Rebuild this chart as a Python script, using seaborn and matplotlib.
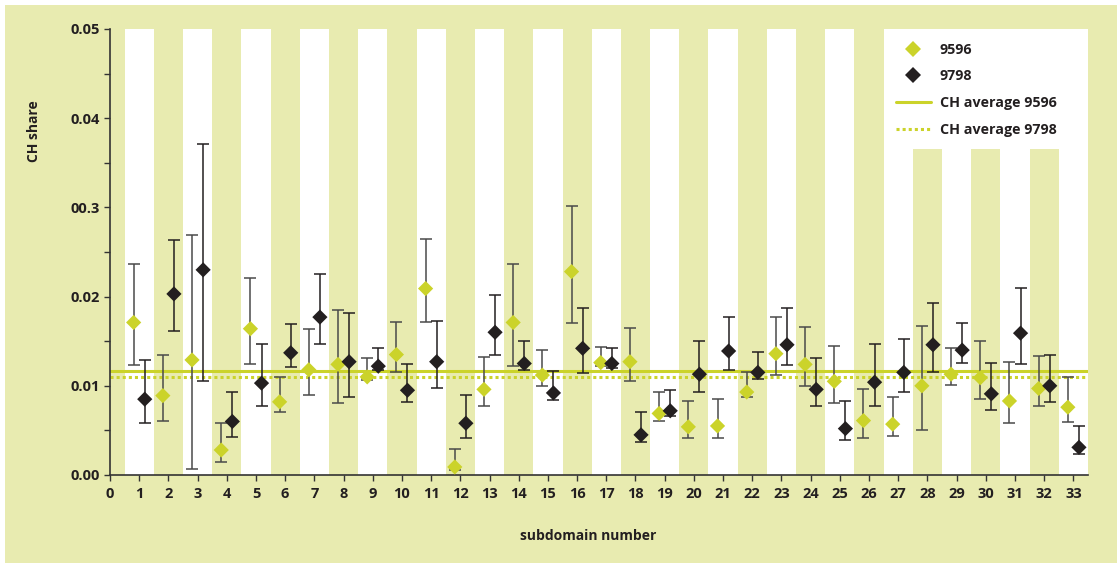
import pandas as pd
import matplotlib
matplotlib.use('Agg')
from matplotlib import pyplot as plt
from matplotlib.lines import Line2D
from matplotlib.patches import Rectangle
import seaborn as sns

# values
subdomain = list(range(1, 34))
share_9596 = [0.0171, 0.0089, 0.0129, 0.0028, 0.0164, 0.0082, 0.0118, 0.0124, 0.0110, 0.0135,
              0.0209, 0.0009, 0.0096, 0.0171, 0.0112, 0.0228, 0.0126, 0.0127, 0.0069, 0.0054,
              0.0055, 0.0093, 0.0136, 0.0124, 0.0105, 0.0061, 0.0057, 0.0100, 0.0113, 0.0109,
              0.0083, 0.0097, 0.0076]
low_9596 = [0.0123, 0.0060, 0.0007, 0.0015, 0.0125, 0.0071, 0.0090, 0.0081, 0.0107, 0.0115,
            0.0171, 0.0006, 0.0077, 0.0122, 0.0100, 0.0170, 0.0122, 0.0105, 0.0061, 0.0042,
            0.0042, 0.0087, 0.0112, 0.0100, 0.0081, 0.0042, 0.0044, 0.0050, 0.0101, 0.0085,
            0.0058, 0.0077, 0.0059]
high_9596 = [0.0237, 0.0135, 0.0269, 0.0058, 0.0221, 0.0110, 0.0164, 0.0185, 0.0131, 0.0172,
             0.0265, 0.0029, 0.0132, 0.0237, 0.0140, 0.0302, 0.0143, 0.0165, 0.0093, 0.0083,
             0.0085, 0.0115, 0.0177, 0.0166, 0.0145, 0.0096, 0.0088, 0.0167, 0.0142, 0.0150,
             0.0127, 0.0133, 0.0110]
share_9798 = [0.0085, 0.0203, 0.0230, 0.0060, 0.0103, 0.0137, 0.0177, 0.0127, 0.0122, 0.0095,
              0.0127, 0.0058, 0.0160, 0.0125, 0.0092, 0.0142, 0.0125, 0.0045, 0.0072, 0.0113,
              0.0139, 0.0115, 0.0146, 0.0096, 0.0052, 0.0104, 0.0115, 0.0146, 0.0140, 0.0091,
              0.0159, 0.0100, 0.0031]
low_9798 = [0.0058, 0.0161, 0.0105, 0.0043, 0.0077, 0.0121, 0.0147, 0.0087, 0.0118, 0.0082,
            0.0098, 0.0042, 0.0134, 0.0118, 0.0084, 0.0114, 0.0120, 0.0037, 0.0066, 0.0093,
            0.0118, 0.0108, 0.0123, 0.0077, 0.0039, 0.0077, 0.0093, 0.0116, 0.0126, 0.0073,
            0.0125, 0.0082, 0.0024]
high_9798 = [0.0129, 0.0264, 0.0371, 0.0093, 0.0147, 0.0169, 0.0225, 0.0182, 0.0142, 0.0125,
             0.0173, 0.0090, 0.0202, 0.0150, 0.0117, 0.0187, 0.0142, 0.0071, 0.0095, 0.0150,
             0.0177, 0.0138, 0.0187, 0.0131, 0.0083, 0.0147, 0.0153, 0.0193, 0.0170, 0.0126,
             0.0210, 0.0135, 0.0055]
ch_avg_9596 = 0.0117
ch_avg_9798 = 0.0110

yticks = [0.00, 0.01, 0.02, 0.03, 0.04, 0.05]
ytick_labels = ['0.00', '0.01', '0.02', '00.3', '0.04', '0.05']

GREEN = '#cbd32a'
BLACK = '#231f20'
KHAKI = '#e8ebb0'

df = pd.concat([
    pd.DataFrame({'period': '9596', 'subdomain': subdomain, 'share': share_9596,
                  'low': low_9596, 'high': high_9596}),
    pd.DataFrame({'period': '9798', 'subdomain': subdomain, 'share': share_9798,
                  'low': low_9798, 'high': high_9798}),
], ignore_index=True)
df['pos'] = df['subdomain'] + df['period'].map({'9596': -0.19, '9798': 0.19})

sns.set_theme(style='ticks')
plt.rcParams['font.family'] = ['Open Sans', 'DejaVu Sans']
plt.rcParams['font.weight'] = 'bold'

fig = plt.figure(figsize=(11.2, 5.63), dpi=100, facecolor='white')
fig.patches.append(Rectangle((5 / 1120, 0), 1112 / 1120, 558 / 563, transform=fig.transFigure,
                             facecolor=KHAKI, edgecolor='none', zorder=-10))
ax = fig.add_axes([110 / 1120, 1 - 475 / 563, 978 / 1120, 446 / 563])
ax.set_facecolor(KHAKI)

# white stripes on odd subdomains
for k in subdomain:
    if k % 2 == 1:
        ax.axvspan(k - 0.5, k + 0.5, color='white', lw=0, zorder=0.5)
# white patch behind the legend
ax.add_patch(Rectangle((26.5, 0.0365), 7, 0.0135, facecolor='white', edgecolor='none', zorder=0.6))

ax.axhline(ch_avg_9596, color=GREEN, lw=2.2, zorder=2)
ax.axhline(ch_avg_9798, color=GREEN, lw=2.2, ls=(0, (1, 1)), zorder=2)

for period, ecol in [('9596', '#4a4a4a'), ('9798', BLACK)]:
    d = df[df['period'] == period]
    ax.errorbar(d['pos'], d['share'], yerr=[d['share'] - d['low'], d['high'] - d['share']],
                fmt='none', ecolor=ecol, elinewidth=1.1, capsize=4, capthick=1.1, zorder=3)

sns.scatterplot(data=df, x='pos', y='share', hue='period', palette={'9596': GREEN, '9798': BLACK},
                marker='D', s=60, edgecolor='none', legend=False, ax=ax, zorder=4)

ax.set_xlim(0, 33.5)
ax.set_ylim(0, 0.05)
ax.set_xticks(range(0, 34))
ax.set_xticklabels([str(i) for i in range(0, 34)], fontsize=10.5, fontweight='bold', color=BLACK)
ax.set_yticks(yticks)
ax.set_yticklabels(ytick_labels, fontsize=10.5, fontweight='bold', color=BLACK)
ax.set_yticks([0.005, 0.015, 0.025, 0.035, 0.045], minor=True)
ax.tick_params(axis='both', which='both', length=4, width=1, color='#333333', direction='out')
ax.tick_params(axis='x', pad=5)
for side in ['top', 'right']:
    ax.spines[side].set_visible(False)
for side in ['left', 'bottom']:
    ax.spines[side].set_color('#333333')
    ax.spines[side].set_linewidth(1.2)

ax.set_xlabel('subdomain number', fontsize=10, fontweight='bold', color=BLACK)
ax.xaxis.set_label_coords(0.489, -0.122)
ax.set_ylabel('CH share', fontsize=10, fontweight='bold', color=BLACK)
ax.yaxis.set_label_coords(-0.071, 0.77)

handles = [
    Line2D([], [], ls='none', marker='D', color=GREEN, markersize=8, markeredgewidth=0),
    Line2D([], [], ls='none', marker='D', color=BLACK, markersize=8, markeredgewidth=0),
    Line2D([], [], color=GREEN, lw=2.2),
    Line2D([], [], color=GREEN, lw=2.2, ls=(0, (1, 1))),
]
labels = ['9596', '9798', 'CH average 9596', 'CH average 9798']
leg = ax.legend(handles, labels, loc='upper left', bbox_to_anchor=((883 - 110) / 978, 0.998),
                frameon=False, fontsize=10.3, handlelength=2.45, handletextpad=0.6, labelspacing=0.88)
for t in leg.get_texts():
    t.set_fontweight('bold')
    t.set_color(BLACK)

fig.savefig('out.png', dpi=100, facecolor=fig.get_facecolor())
